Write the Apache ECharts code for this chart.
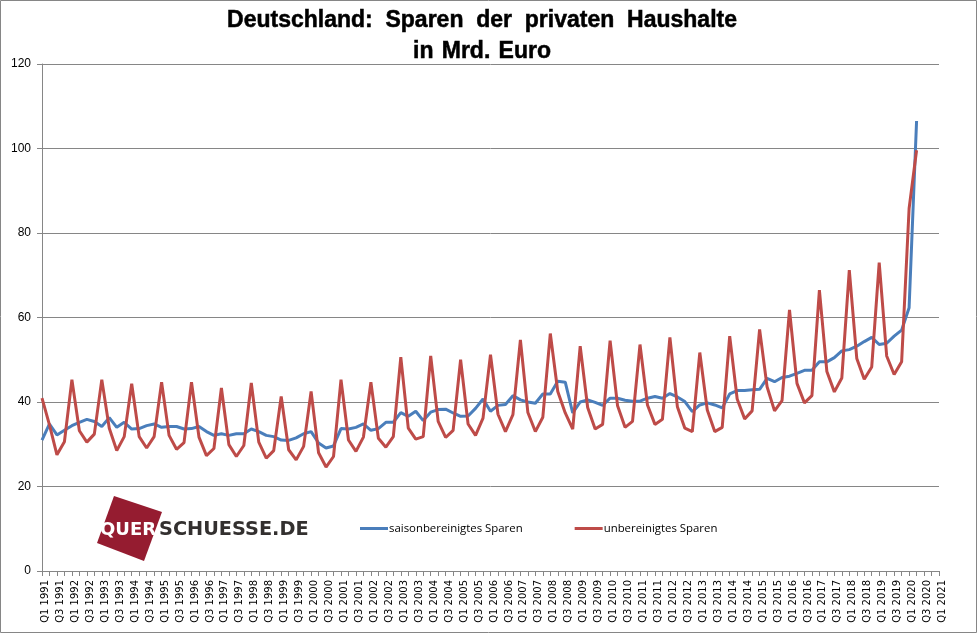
<!DOCTYPE html>
<html><head><meta charset="utf-8">
<style>html,body{margin:0;padding:0;background:#fff}#c{width:977px;height:633px}</style>
<script src="https://cdn.jsdelivr.net/npm/echarts@6/dist/echarts.min.js"></script>
</head><body><div id="c"></div>
<script>
const categories = [
"Q1 1991","Q2 1991","Q3 1991","Q4 1991","Q1 1992","Q2 1992","Q3 1992","Q4 1992","Q1 1993","Q2 1993","Q3 1993","Q4 1993",
"Q1 1994","Q2 1994","Q3 1994","Q4 1994","Q1 1995","Q2 1995","Q3 1995","Q4 1995","Q1 1996","Q2 1996","Q3 1996","Q4 1996",
"Q1 1997","Q2 1997","Q3 1997","Q4 1997","Q1 1998","Q2 1998","Q3 1998","Q4 1998","Q1 1999","Q2 1999","Q3 1999","Q4 1999",
"Q1 2000","Q2 2000","Q3 2000","Q4 2000","Q1 2001","Q2 2001","Q3 2001","Q4 2001","Q1 2002","Q2 2002","Q3 2002","Q4 2002",
"Q1 2003","Q2 2003","Q3 2003","Q4 2003","Q1 2004","Q2 2004","Q3 2004","Q4 2004","Q1 2005","Q2 2005","Q3 2005","Q4 2005",
"Q1 2006","Q2 2006","Q3 2006","Q4 2006","Q1 2007","Q2 2007","Q3 2007","Q4 2007","Q1 2008","Q2 2008","Q3 2008","Q4 2008",
"Q1 2009","Q2 2009","Q3 2009","Q4 2009","Q1 2010","Q2 2010","Q3 2010","Q4 2010","Q1 2011","Q2 2011","Q3 2011","Q4 2011",
"Q1 2012","Q2 2012","Q3 2012","Q4 2012","Q1 2013","Q2 2013","Q3 2013","Q4 2013","Q1 2014","Q2 2014","Q3 2014","Q4 2014",
"Q1 2015","Q2 2015","Q3 2015","Q4 2015","Q1 2016","Q2 2016","Q3 2016","Q4 2016","Q1 2017","Q2 2017","Q3 2017","Q4 2017",
"Q1 2018","Q2 2018","Q3 2018","Q4 2018","Q1 2019","Q2 2019","Q3 2019","Q4 2019","Q1 2020","Q2 2020","Q3 2020","Q4 2020",
"Q1 2021"];
const saisonbereinigt = [
31,34.8,32.2,33.3,34.4,35.2,35.9,35.4,34.2,36.3,34,35.2,
33.6,33.7,34.4,34.8,34,34.2,34.2,33.6,33.7,34.2,33,32.1,
32.5,32.1,32.5,32.5,33.6,33,32.1,31.8,31,30.9,31.5,32.5,
33,30.3,29.1,29.6,33.7,33.6,34,34.8,33.3,33.7,35.2,35.2,
37.5,36.6,37.8,35.6,37.6,38.2,38.3,37.4,36.6,36.7,38.5,40.7,
37.8,39.2,39.4,41.5,40.5,40,39.7,41.9,41.9,44.9,44.7,37.4,
40,40.5,39.9,39.2,40.9,40.9,40.4,40.2,40.2,40.9,41.3,40.9,
42,41.2,40.1,37.7,39.3,39.8,39.3,38.6,41.9,42.7,42.7,42.9,
43,45.6,44.8,45.8,46.1,46.8,47.5,47.5,49.5,49.5,50.5,52.1,
52.4,53.2,54.3,55.3,53.6,53.9,55.6,57,62.3,106.5,null,null,null];
const unbereinigt = [
40.9,34.6,27.5,30.6,45.3,33.2,30.5,32.4,45.3,33.8,28.5,31.8,
44.3,31.8,29.1,31.8,44.7,32.1,28.8,30.4,44.7,31.7,27.3,29,
43.3,29.9,27.1,29.7,44.5,30.5,26.7,28.5,41.3,28.7,26.3,29.5,
42.5,28,24.6,27.1,45.3,31,28.3,31.7,44.7,31.4,29.3,31.8,
50.6,33.8,31.2,31.8,50.9,35.4,31.6,33.3,50,34.8,32.1,36.2,
51.2,37.1,33,37,54.7,37.5,33,36.4,56.2,42.5,37.4,33.6,
53.2,38.7,33.6,34.7,54.5,39.1,34,35.4,53.6,39.3,34.7,35.9,
55.3,38.9,33.8,33,51.7,38.1,33,34,55.6,40.7,36,37.9,
57.2,43.6,37.9,40.3,61.8,44.4,39.8,41.5,66.5,47.2,42.4,45.7,
71.2,50.3,45.4,48.3,73,50.9,46.5,49.5,85.8,99.6,null,null,null];
const seriesNames = ["saisonbereinigtes Sparen","unbereinigtes Sparen"];
const titleText = "Deutschland:  Sparen  der  privaten  Haushalte\nin \u200AMrd. \u200AEuro";

const grey = "#868686";
const chart = echarts.init(document.getElementById("c"), null, {renderer:"canvas"});
chart.setOption({
  animation:false,
  backgroundColor:"#fff",
  title:{text:titleText,left:477,top:0,textAlign:"center",
    textStyle:{fontFamily:"Liberation Sans",fontWeight:"bold",fontSize:23,color:"#000",lineHeight:31,
      textBorderColor:"#000",textBorderWidth:0.5}},
  grid:{left:42,right:38,top:64,bottom:62,containLabel:false},
  legend:{left:355,top:518,itemWidth:28,itemHeight:14,itemGap:52,icon:"path://M0 6H28V9H0Z",
    textStyle:{fontFamily:"Open Sans",fontSize:11.4,color:"#000",padding:[0,0,0,-4]},
    data:seriesNames},
  xAxis:{type:"category",data:categories,boundaryGap:false,
    axisLine:{lineStyle:{color:grey,width:1}},
    axisTick:{show:true,interval:0,length:5,lineStyle:{color:grey}},
    axisLabel:{interval:1,rotate:90,margin:9,verticalAlign:"top",lineHeight:7,fontFamily:"DejaVu Sans",fontSize:10,color:"#000",hideOverlap:false,showMinLabel:true,showMaxLabel:true},
    splitLine:{show:false}},
  yAxis:{type:"value",min:0,max:120,interval:20,
    axisLine:{show:true,lineStyle:{color:grey,width:1}},
    axisTick:{show:true,length:5,lineStyle:{color:grey}},
    axisLabel:{margin:11,fontFamily:"Liberation Sans",fontSize:12,color:"#000"},
    splitLine:{show:true,lineStyle:{color:grey,width:1}}},
  series:[
    {name:seriesNames[0],type:"line",data:saisonbereinigt,showSymbol:false,symbol:"none",
      lineStyle:{color:"#4a7ebb",width:3},itemStyle:{color:"#4a7ebb"}},
    {name:seriesNames[1],type:"line",data:unbereinigt,showSymbol:false,symbol:"none",
      lineStyle:{color:"#be4b48",width:3},itemStyle:{color:"#be4b48"}}
  ],
  graphic:[
    {type:"rect",silent:true,shape:{x:0.5,y:0.5,width:976,height:632},style:{fill:"none",stroke:grey,lineWidth:1}},
    {type:"polygon",silent:true,shape:{points:[[114,496],[162,512],[144,561],[97,543]]},style:{fill:"#951c30"}},
    {type:"text",silent:true,style:{x:100,y:530,text:"QUER",fill:"#fff",font:"bold 18px 'DejaVu Sans'",textVerticalAlign:"middle"}},
    {type:"text",silent:true,style:{x:159,y:530,text:"SCHUESSE.DE",fill:"#33302f",font:"bold 19.3px 'DejaVu Sans'",textVerticalAlign:"middle"}}
  ]
});
</script></body></html>
